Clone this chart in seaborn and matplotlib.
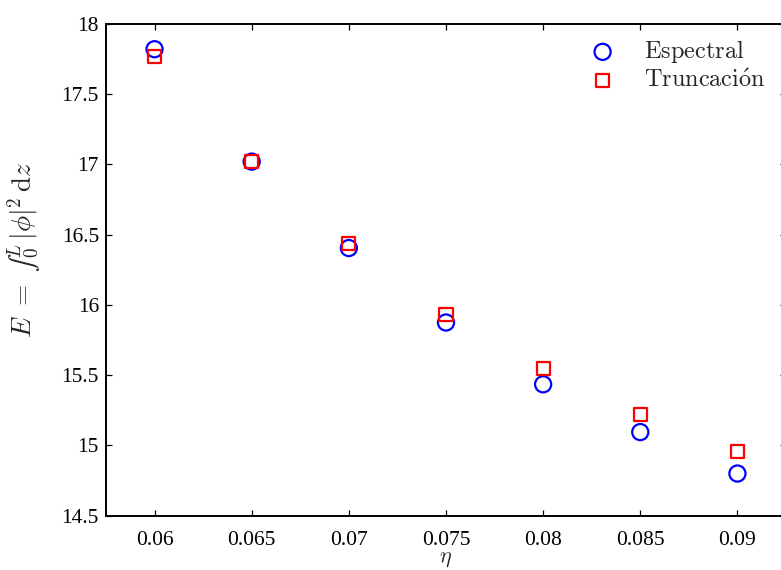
import matplotlib
matplotlib.use("Agg")
import matplotlib.pyplot as plt
import seaborn as sns
import pandas as pd

# Energy E = int_0^L |phi|^2 dz versus eta for the two methods
eta = [0.060, 0.065, 0.070, 0.075, 0.080, 0.085, 0.090]
espectral = [17.82, 17.02, 16.405, 15.875, 15.435, 15.095, 14.80]
truncacion = [17.765, 17.02, 16.44, 15.935, 15.55, 15.22, 14.96]

x_ticks = [0.06, 0.065, 0.07, 0.075, 0.08, 0.085, 0.09]
x_tick_labels = ["0.06", "0.065", "0.07", "0.075", "0.08", "0.085", "0.09"]
y_ticks = [14.5, 15, 15.5, 16, 16.5, 17, 17.5, 18]
y_tick_labels = ["14.5", "15", "15.5", "16", "16.5", "17", "17.5", "18"]

sns.set_theme(style="white")
plt.rcParams["mathtext.fontset"] = "cm"
plt.rcParams["font.family"] = ["Liberation Serif", "DejaVu Serif"]

fig = plt.figure(figsize=(7.81, 5.70), dpi=100)
ax = fig.add_axes([0.1357, 0.0953, 0.8707, 0.8627])

df = pd.DataFrame({"eta": eta, "Espectral": espectral, "Truncación": truncacion})

sns.scatterplot(data=df, x="eta", y="Espectral", marker="o", s=135,
                color="blue", linewidth=1.6, ax=ax,
                label=r"$\mathrm{Espectral}$", zorder=3)
sns.scatterplot(data=df, x="eta", y="Truncación", marker="s", s=88,
                color="red", linewidth=1.6, ax=ax,
                label=r"$\mathrm{Truncaci\acute{o}n}$", zorder=3)

for coll, col in zip(ax.collections, ["blue", "red"]):
    coll.set_facecolor("none")
    coll.set_edgecolor(col)

ax.set_xlim(0.0575, 0.0925)
ax.set_ylim(14.5, 18)
ax.set_xticks(x_ticks)
ax.set_xticklabels(x_tick_labels)
ax.set_yticks(y_ticks)
ax.set_yticklabels(y_tick_labels)

ax.tick_params(axis="both", which="major", direction="in", length=4.5,
               width=0.9, labelsize=15.5, color="black", labelcolor="black",
               top=True, right=True, bottom=True, left=True)
ax.tick_params(axis="x", pad=11)
ax.tick_params(axis="y", pad=5)
for side in ["left", "bottom", "top", "right"]:
    ax.spines[side].set_visible(True)
    ax.spines[side].set_color("black")
    ax.spines[side].set_linewidth(1.4)

ax.set_xlabel(r"$\eta$", fontsize=16, labelpad=0)
ax.set_ylabel("$E\\ =\\ ∫_0^L\\,|\\phi|^2\\,\\mathrm{d}z$", fontsize=19.5)
ax.yaxis.set_label_coords(-0.093, 0.54)

leg = ax.legend(loc="upper left", bbox_to_anchor=(0.728, 0.950),
                bbox_transform=fig.transFigure, frameon=False,
                handletextpad=0.7, labelspacing=0.18, borderaxespad=0,
                prop={"size": 17.5})

fig.savefig("out.png", dpi=100)
